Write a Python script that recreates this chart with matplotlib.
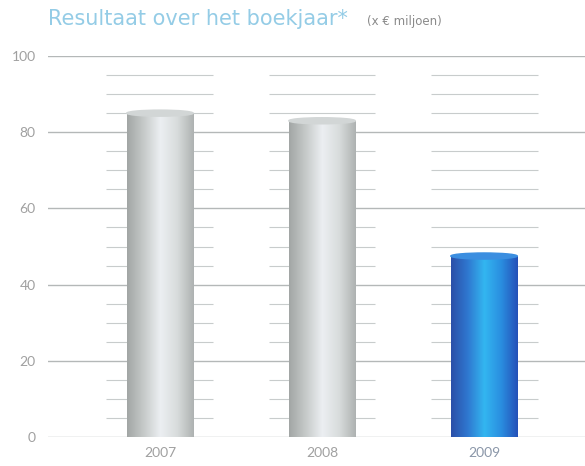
import numpy as np
import matplotlib.pyplot as plt
from matplotlib.patches import Ellipse
from matplotlib.colors import LinearSegmentedColormap

# data
years = ['2007', '2008', '2009']
result = [85, 83, 47.5]
yticks = [0, 20, 40, 60, 80, 100]

plt.rcParams['font.family'] = ['Lato', 'DejaVu Sans']

fig = plt.figure(figsize=(5.85, 4.66), dpi=100)
ax = fig.add_axes([48 / 585, 29 / 466, 537 / 585, 381 / 466])

x = np.arange(len(years))
width = 0.41
ext = 0.125

# major gridlines
for t in yticks:
    ax.axhline(t, color='#b4b8b8', lw=1.0, zorder=1)

# short minor lines around each bar
minor = [v for v in range(5, 100, 5) if v % 20 != 0]
for xi in x:
    ax.hlines(minor, xi - width / 2 - ext, xi + width / 2 + ext,
              color='#c8cccc', lw=0.8, zorder=1)

silver = LinearSegmentedColormap.from_list(
    'silver', ['#a2a6a5', '#c6cac9', '#eceff2', '#d8dcdc', '#aeb2b1'])
blue = LinearSegmentedColormap.from_list(
    'blue', ['#2b4fa8', '#2f78d0', '#33b6f0', '#2a8ee0', '#2450b8'])
grad = np.linspace(0, 1, 256).reshape(1, -1)

bars = ax.bar(x, result, width=width, color='none', zorder=3)
for i, b in enumerate(bars):
    cmap = blue if i == 2 else silver
    x0, h = b.get_x(), b.get_height()
    im = ax.imshow(grad, cmap=cmap, aspect='auto', zorder=3,
                   extent=[x0, x0 + width, 0, h])
    im.set_clip_path(b)
    top_col = '#3b8ee0' if i == 2 else '#d2d6d6'
    ax.add_patch(Ellipse((x[i], h), width, 1.6, color=top_col, zorder=4))

ax.set_xlim(-0.691, 2.623)
ax.set_ylim(0, 100)

ax.set_yticks(yticks)
ax.set_xticks(x)
ax.set_xticklabels(years)
ax.tick_params(length=0, labelsize=10, colors='#a0a0a0')
ax.tick_params(axis='y', pad=9)
ax.tick_params(axis='x', pad=7)
for lbl in ax.get_xticklabels():
    if lbl.get_text() == '2009':
        lbl.set_color('#8a96a8')
for s in ax.spines.values():
    s.set_visible(False)

fig.text(48 / 585, 1 - 25 / 466, 'Resultaat over het boekjaar*',
         fontsize=15, color='#94cce6', va='baseline', family='DejaVu Sans')
fig.text(367 / 585, 1 - 25 / 466, '(x € miljoen)',
         fontsize=8.5, color='#8a8a8a', va='baseline', family='DejaVu Sans')

fig.savefig('out.png', dpi=100)
